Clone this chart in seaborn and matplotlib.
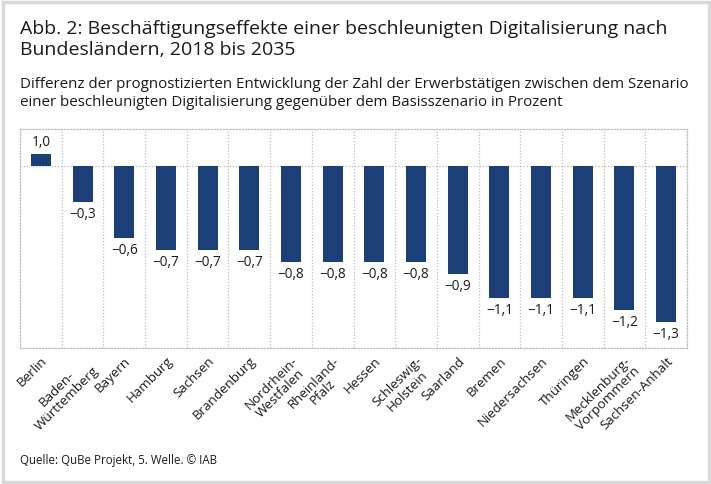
import matplotlib
matplotlib.use("Agg")
import matplotlib.pyplot as plt
import seaborn as sns
import pandas as pd
import numpy as np
from matplotlib.patches import Rectangle

laender = ["Berlin", "Baden-\nWürttemberg", "Bayern", "Hamburg", "Sachsen", "Brandenburg",
           "Nordrhein-\nWestfalen", "Rheinland-\nPfalz", "Hessen", "Schleswig-\nHolstein",
           "Saarland", "Bremen", "Niedersachsen", "Thüringen", "Mecklenburg-\nVorpommern",
           "Sachsen-Anhalt"]
werte = [0.1, -0.3, -0.6, -0.7, -0.7, -0.7, -0.8, -0.8, -0.8, -0.8, -0.9, -1.1, -1.1, -1.1, -1.2, -1.3]
beschriftung = ["1,0", "−0,3", "−0,6", "−0,7", "−0,7", "−0,7", "−0,8", "−0,8", "−0,8", "−0,8",
                "−0,9", "−1,1", "−1,1", "−1,1", "−1,2", "−1,3"]

sns.set_theme(style="white")
plt.rcParams['font.family'] = ['Open Sans', 'DejaVu Sans']

df = pd.DataFrame({"land": laender, "wert": werte})

fig = plt.figure(figsize=(7.11, 4.85), dpi=100)
ax = fig.add_axes([20/711, 1-349/485, (687-20)/711, (349-130)/485])

bar_color = "#1B3F76"
sns.barplot(data=df, x="land", y="wert", color=bar_color, width=0.48, ax=ax,
            saturation=1, edgecolor="none")

ax.set_ylim(-1.52, 0.305)
ax.set_xlim(-0.5, len(laender) - 0.5)

grid_c = "#bdbdbd"
for s in ax.spines.values():
    s.set_visible(True)
    s.set_linestyle((0, (1, 1.5)))
    s.set_color(grid_c)
    s.set_linewidth(0.9)
ax.axhline(0, color=grid_c, linestyle=(0, (1, 1.5)), linewidth=0.9, zorder=0)
for xv in np.arange(0.5, len(laender) - 0.5, 1):
    ax.axvline(xv, color=grid_c, linestyle=(0, (1, 1.5)), linewidth=0.9, zorder=0)

ax.set_xlabel("")
ax.set_ylabel("")
ax.set_yticks([])
ax.tick_params(axis="x", length=0, pad=4)
ax.set_xticks(range(len(laender)))
ax.set_xticklabels(laender, rotation=45, ha="right", va="top", rotation_mode="anchor",
                   fontsize=9.6, color="#1a1a1a", multialignment="center", linespacing=1.05)

for i, (v, t) in enumerate(zip(werte, beschriftung)):
    if v >= 0:
        ax.annotate(t, (i, v), xytext=(0, 3), textcoords="offset points",
                    ha="center", va="bottom", fontsize=9.8, color="#1a1a1a")
    else:
        ax.annotate(t, (i, v), xytext=(0, -3), textcoords="offset points",
                    ha="center", va="top", fontsize=9.8, color="#1a1a1a")

fig.text(20/711, 1-55/485, "Abb. 2: Beschäftigungseffekte einer beschleunigten Digitalisierung nach\nBundesländern, 2018 bis 2035",
         fontsize=14, color="#1a1a1a", ha="left", va="baseline", linespacing=1.25)
fig.text(20/711, 1-106/485, "Differenz der prognostizierten Entwicklung der Zahl der Erwerbstätigen zwischen dem Szenario\neiner beschleunigten Digitalisierung gegenüber dem Basisszenario in Prozent",
         fontsize=10.9, color="#1a1a1a", ha="left", va="baseline", linespacing=1.3)
fig.text(20/711, 1-464/485, "Quelle: QuBe Projekt, 5. Welle. © IAB", fontsize=8.3, color="#1a1a1a",
         ha="left", va="baseline")

fig.patches.append(Rectangle((2.5/711, 2.5/485), 1-5/711, 1-5/485, transform=fig.transFigure,
                             fill=False, edgecolor="#d9d9d9", linewidth=2.5))

fig.savefig("out.png", dpi=100)
